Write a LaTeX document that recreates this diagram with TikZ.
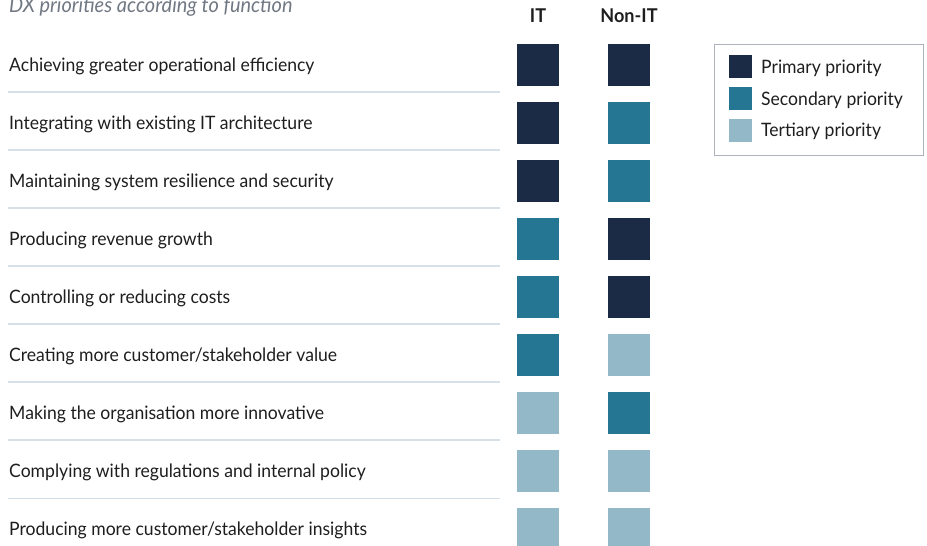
\documentclass[tikz,border=0pt]{standalone}
\usepackage{fontspec}
\setmainfont{Lato}[FakeStretch=0.95]
\definecolor{primcol}{HTML}{1C2B45}
\definecolor{seccol}{HTML}{247692}
\definecolor{tertcol}{HTML}{93B9C8}
\definecolor{rulecol}{HTML}{D5E0E8}
\definecolor{inkcol}{HTML}{1E1E1E}
\definecolor{titlecol}{HTML}{707883}
\definecolor{framecol}{HTML}{AEB3BB}
\begin{document}
\begin{tikzpicture}[x=1pt,y=-1pt,
  row/.style={anchor=base west,inner sep=0,text=inkcol,font=\fontsize{18.5}{22}\selectfont},
  head/.style={anchor=base,inner sep=0,text=inkcol,font=\fontsize{19}{22}\selectfont\bfseries},
  cell/.style={minimum size=42pt,inner sep=0,outer sep=0},
  key/.style={minimum size=23pt,inner sep=0,outer sep=0},
  sep/.style={draw=rulecol,line width=1.5pt}]
\useasboundingbox (0,0) rectangle (927,546);
% title, cut at the top
\node[anchor=base west,inner sep=0,text=titlecol,font=\fontsize{21}{24}\selectfont\itshape] (title) at (9,12.5) {DX priorities according to function};
\node[head] (hIT) at (538,23) {IT};
\node[head] (hNon) at (629,23) {Non-IT};
% rows
\node[row] (r1) at (9,71.5) {Achieving greater operational efficiency};
\node[row] (r2) at (9,129.5) {Integrating with existing IT architecture};
\node[row] (r3) at (9,187.5) {Maintaining system resilience and security};
\node[row] (r4) at (9,245.5) {Producing revenue growth};
\node[row] (r5) at (9,303.5) {Controlling or reducing costs};
\node[row] (r6) at (9,361.5) {Creating more customer/stakeholder value};
\node[row] (r7) at (9,419.5) {Making the organisation more innovative};
\node[row] (r8) at (9,477.5) {Complying with regulations and internal policy};
\node[row] (r9) at (9,535.5) {Producing more customer/stakeholder insights};
\draw[sep] (8,92)--(500,92);
\draw[sep] (8,150)--(500,150);
\draw[sep] (8,208)--(500,208);
\draw[sep] (8,266)--(500,266);
\draw[sep] (8,324)--(500,324);
\draw[sep] (8,382)--(500,382);
\draw[sep] (8,440)--(500,440);
\draw[sep] (8,498.5)--(500,498.5);
% IT column
\node[cell,fill=primcol] (it1) at (538,65) {};
\node[cell,fill=primcol] (it2) at (538,123) {};
\node[cell,fill=primcol] (it3) at (538,181) {};
\node[cell,fill=seccol] (it4) at (538,239) {};
\node[cell,fill=seccol] (it5) at (538,297) {};
\node[cell,fill=seccol] (it6) at (538,355) {};
\node[cell,fill=tertcol] (it7) at (538,413) {};
\node[cell,fill=tertcol] (it8) at (538,471) {};
\node[cell,fill=tertcol] (it9) at (538,529) {};
% Non-IT column
\node[cell,fill=primcol] (non1) at (629,65) {};
\node[cell,fill=seccol] (non2) at (629,123) {};
\node[cell,fill=seccol] (non3) at (629,181) {};
\node[cell,fill=primcol] (non4) at (629,239) {};
\node[cell,fill=primcol] (non5) at (629,297) {};
\node[cell,fill=tertcol] (non6) at (629,355) {};
\node[cell,fill=seccol] (non7) at (629,413) {};
\node[cell,fill=tertcol] (non8) at (629,471) {};
\node[cell,fill=tertcol] (non9) at (629,529) {};
% legend
\draw[framecol,line width=1pt] (714.5,44.5) rectangle (923.5,155);
\node[key,fill=primcol] (kPrim) at (740.5,66.5) {};
\node[key,fill=seccol] (kSec) at (740.5,98.5) {};
\node[key,fill=tertcol] (kTert) at (740.5,130) {};
\node[row] (lPrim) at (761,73) {Primary priority};
\node[row] (lSec) at (761,105) {Secondary priority};
\node[row] (lTert) at (761,136.5) {Tertiary priority};
\end{tikzpicture}
\end{document}
